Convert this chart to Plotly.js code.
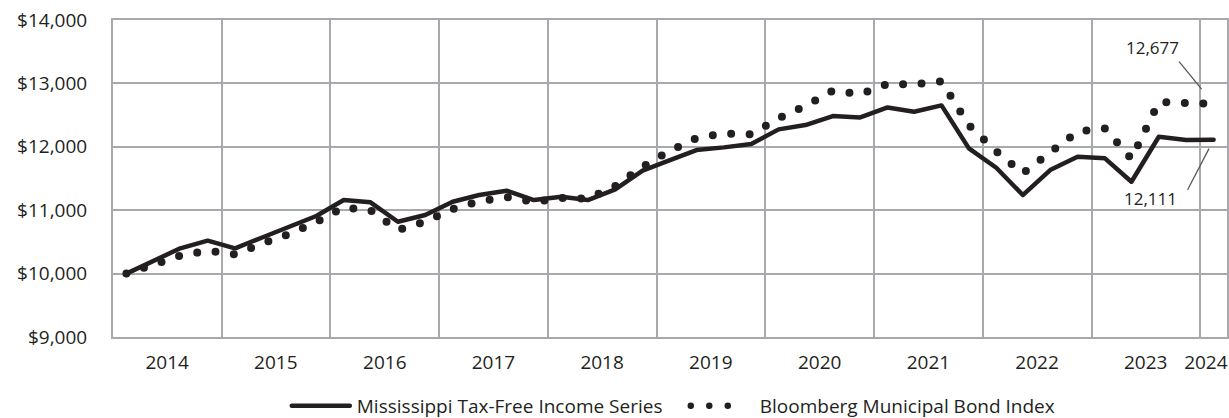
<!DOCTYPE html>
<html><head><meta charset="utf-8">
<script src="https://cdn.plot.ly/plotly-3.0.1.min.js"></script>
<style>
html,body{margin:0;padding:0;background:#fff;}
#chart{width:1229px;height:418px;}
.scatterlayer path.js-line, .legend .legendlines path{stroke-linecap:round;stroke-linejoin:round;}
</style></head><body><div id="chart"></div>
<script>
const dates = ['2014-02-15','2014-05-15','2014-08-15','2014-11-15',
'2015-02-15','2015-05-15','2015-08-15','2015-11-15',
'2016-02-15','2016-05-15','2016-08-15','2016-11-15',
'2017-02-15','2017-05-15','2017-08-15','2017-11-15',
'2018-02-15','2018-05-15','2018-08-15','2018-11-15',
'2019-02-15','2019-05-15','2019-08-15','2019-11-15',
'2020-02-15','2020-05-15','2020-08-15','2020-11-15',
'2021-02-15','2021-05-15','2021-08-15','2021-11-15',
'2022-02-15','2022-05-15','2022-08-15','2022-11-15',
'2023-02-15','2023-05-15','2023-08-15','2023-11-15',
'2024-02-15'];
const fundValues = [10000,10203,10399,10519,10399,10566,10735,10908,11160,11124,
10818,10924,11134,11239,11307,11160,11213,11160,11329,11623,
11791,11949,11991,12044,12275,12343,12485,12464,12621,12552,
12653,11975,11670,11239,11633,11844,11818,11449,12159,12107,12111];
const indexValues = [10000,10140,10282,10361,10304,10471,10624,10813,11045,10998,
10687,10818,11019,11140,11208,11129,11192,11181,11381,11686,
11938,12138,12212,12196,12449,12643,12885,12832,12990,12985,
13032,12340,11930,11580,11906,12240,12290,11810,12705,12690,12677];
const seriesNames = ['Mississippi Tax-Free Income Series','Bloomberg Municipal Bond Index'];
const yearTickVals = ['2014-07-02','2015-07-02','2016-07-02','2017-07-02','2018-07-02','2019-07-02','2020-07-02','2021-07-02','2022-07-02','2023-07-02','2024-01-20'];
const yearTickText = ['2014','2015','2016','2017','2018','2019','2020','2021','2022','2023','2024'];
const yearGrid = ['2014-01-01','2015-01-01','2016-01-01','2017-01-01','2018-01-01','2019-01-01','2020-01-01','2021-01-01','2022-01-01','2023-01-01','2024-01-01'];
const endLabels = ['12,677','12,111'];

const ink = '#231f20';
const grid = '#a7a9ac';
const font = 'Open Sans';
const lastIdx = dates.length - 1;

const traces = [
  {x: dates, y: fundValues, name: seriesNames[0], type: 'scatter', mode: 'lines',
   line: {color: ink, width: 4.5}},
  {x: dates, y: indexValues, name: seriesNames[1], type: 'scatter', mode: 'lines',
   line: {color: ink, width: 8, dash: '0px,18.5px'}}
];

const layout = {
  width: 1229, height: 418,
  margin: {l: 113, r: 2, t: 20, b: 81, pad: 0, autoexpand: false},
  paper_bgcolor: '#fff', plot_bgcolor: '#fff',
  font: {family: font, size: 19, color: ink},
  showlegend: true,
  legend: {orientation: 'h', x: 0.156, xanchor: 'left', y: -0.2177, yanchor: 'middle',
    font: {family: font, size: 19, color: ink}, itemwidth: 60, entrywidth: 328, traceorder: 'normal'},
  xaxis: {type: 'date', range: ['2014-01-01','2024-03-31'],
    tickmode: 'array', tickvals: yearTickVals, ticktext: yearTickText,
    showgrid: false, ticks: '', showline: true, mirror: true, linecolor: grid, linewidth: 2,
    zeroline: false, ticklabelstandoff: 7,
    tickfont: {family: font, size: 19, color: ink},
    minor: {tickmode: 'array', tickvals: yearGrid, showgrid: true, gridcolor: grid, gridwidth: 2, ticks: ''}},
  yaxis: {range: [9000, 14000], tickmode: 'linear', tick0: 9000, dtick: 1000,
    tickprefix: '$', tickformat: ',', showgrid: true, gridcolor: grid, gridwidth: 2,
    showline: true, mirror: true, linecolor: grid, linewidth: 2, zeroline: false, ticks: '',
    ticklabelstandoff: 20, tickfont: {family: font, size: 19, color: ink}},
  annotations: [
    {x: dates[lastIdx], y: indexValues[lastIdx], text: endLabels[0], showarrow: false,
     xshift: -61, yshift: 56, font: {family: font, size: 17, color: ink}},
    {x: dates[lastIdx], y: fundValues[lastIdx], text: endLabels[1], showarrow: false,
     xshift: -63, yshift: -59, font: {family: font, size: 17, color: ink}},
    {x: dates[lastIdx], y: indexValues[lastIdx], text: ' ', showarrow: true, arrowhead: 0,
     ax: -36, ay: -44, standoff: 19, arrowcolor: '#58595b', arrowwidth: 1.3, font: {size: 1}},
    {x: dates[lastIdx], y: fundValues[lastIdx], text: ' ', showarrow: true, arrowhead: 0,
     ax: -27, ay: 52, standoff: 10, arrowcolor: '#58595b', arrowwidth: 1.3, font: {size: 1}}
  ]
};

Plotly.newPlot('chart', traces, layout, {displayModeBar: false, staticPlot: true}).then(function(gd){
  const items = gd.querySelectorAll('.legend .traces');
  if (items[0]) { const p = items[0].querySelector('.legendlines path'); if (p) p.setAttribute('d', 'M5,0h58'); }
  if (items[1]) { const p = items[1].querySelector('.legendlines path'); if (p) { p.setAttribute('d', 'M1,0h38'); p.style.strokeWidth = '6.5px'; } }
});
</script></body></html>
